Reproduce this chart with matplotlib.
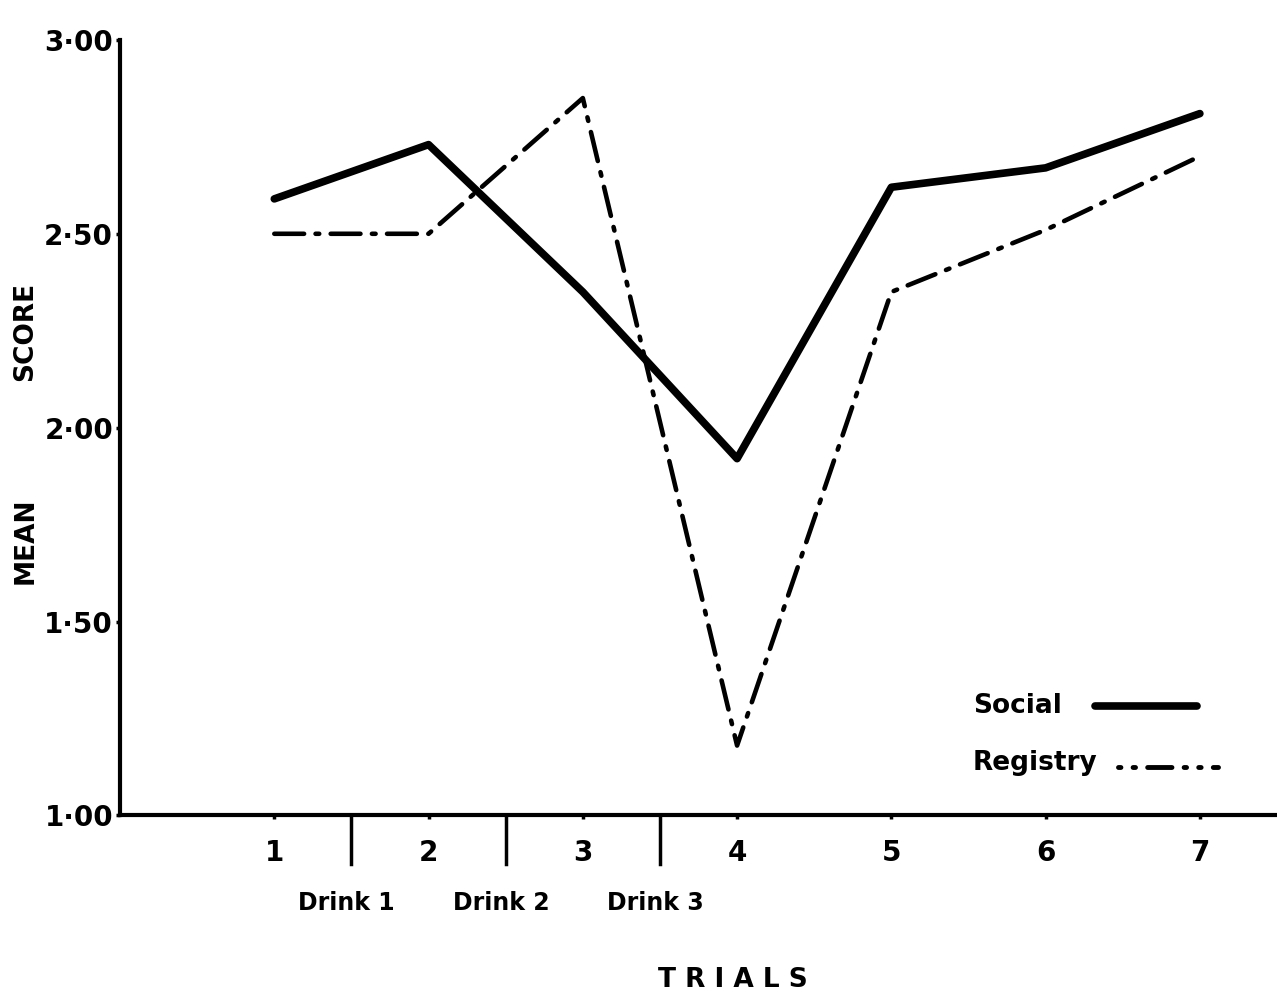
import matplotlib
matplotlib.use("Agg")
import matplotlib.pyplot as plt

trials = [1, 2, 3, 4, 5, 6, 7]
social = [2.59, 2.73, 2.35, 1.92, 2.62, 2.67, 2.81]
registry = [2.50, 2.50, 2.85, 1.18, 2.35, 2.51, 2.70]
yticks = [1.00, 1.50, 2.00, 2.50, 3.00]
ytick_labels = ["1·00", "1·50", "2·00", "2·50", "3·00"]
drink_pos = [1.5, 2.5, 3.5]
drink_labels = ["Drink 1", "Drink 2", "Drink 3"]

plt.rcParams["font.family"] = "DejaVu Sans"
plt.rcParams["font.weight"] = "bold"

fig = plt.figure(figsize=(12.77, 9.98), dpi=100)
ax = fig.add_axes([0.094, 0.183, 0.906, 0.777])

ax.plot(trials, social, color="black", lw=5.5, solid_joinstyle="round",
        solid_capstyle="round")
ax.plot(trials, registry, color="black", lw=3.3, dashes=(6.5, 2.5, 0.8, 2.5),
        dash_capstyle="round")

ax.set_xlim(0, 7.5)
ax.set_ylim(1.0, 3.0)
for s in ("top", "right"):
    ax.spines[s].set_visible(False)
ax.spines["left"].set_linewidth(3)
ax.spines["bottom"].set_linewidth(3)

ax.set_yticks(yticks)
ax.set_yticklabels(ytick_labels, fontsize=20, fontweight="bold")
ax.set_xticks(trials)
ax.set_xticklabels([str(t) for t in trials], fontsize=20, fontweight="bold")
ax.tick_params(axis="both", length=3, width=2.5)
ax.tick_params(axis="y", pad=2)
ax.tick_params(axis="x", pad=14)

# drink separators below the axis
for x in drink_pos:
    ax.plot([x, x], [1.0, 0.875], color="black", lw=2.5, clip_on=False)
for x, lab in zip(drink_pos, drink_labels):
    ax.text(x - 0.03, 0.775, lab, ha="center", va="center", fontsize=17,
            fontweight="bold")

# legend drawn by hand
ax.text(5.53, 1.283, "Social", ha="left", va="center", fontsize=19,
        fontweight="bold")
ax.plot([6.32, 6.98], [1.283, 1.283], color="black", lw=5.5,
        solid_capstyle="round")
ax.text(5.53, 1.135, "Registry", ha="left", va="center", fontsize=19,
        fontweight="bold")
ax.plot([6.47, 7.12], [1.125, 1.125], color="black", lw=3.5,
        dashes=(0.5, 2.5, 0.5, 2.5, 5, 2.5), dash_capstyle="round")

fig.text(0.574, 0.005, "T R I A L S", ha="center", va="bottom", fontsize=19,
         fontweight="bold")
fig.text(0.02, 0.458, "MEAN", rotation=90, ha="center", va="center",
         fontsize=19, fontweight="bold")
fig.text(0.02, 0.668, "SCORE", rotation=90, ha="center", va="center",
         fontsize=19, fontweight="bold")

fig.savefig("out.png", dpi=100)
